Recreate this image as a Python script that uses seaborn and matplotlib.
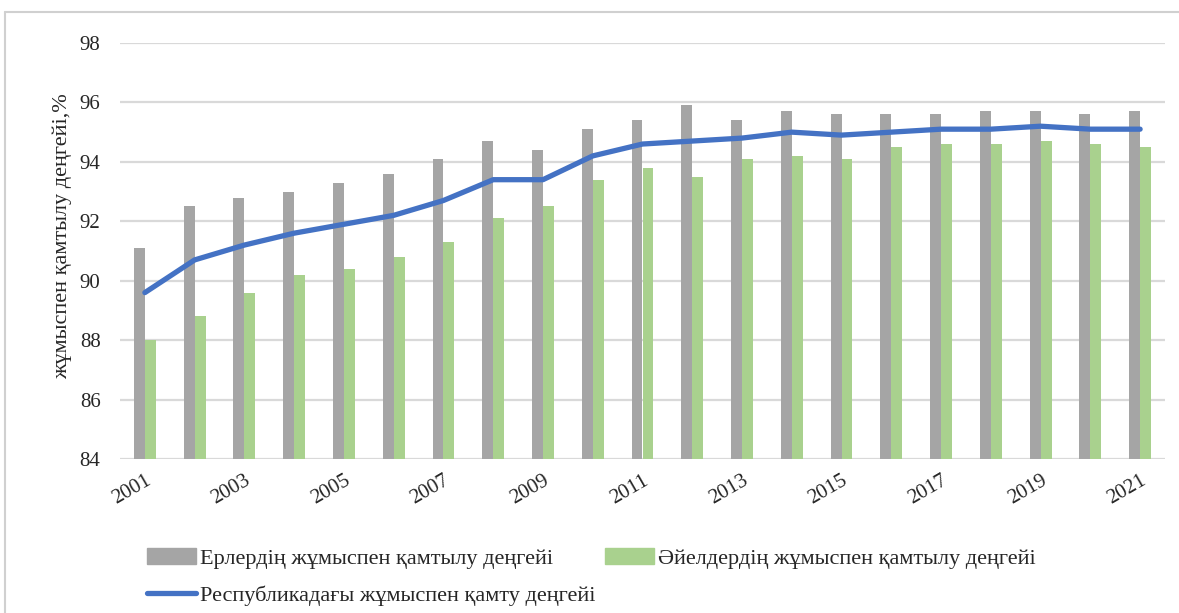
import numpy as np
import pandas as pd
import matplotlib
matplotlib.use("Agg")
import matplotlib.pyplot as plt
import matplotlib.patches as mpatches
import matplotlib.lines as mlines
import seaborn as sns

years = [str(y) for y in range(2001, 2022)]
men = [91.1, 92.5, 92.8, 93.0, 93.3, 93.6, 94.1, 94.7, 94.4, 95.1, 95.4,
       95.9, 95.4, 95.7, 95.6, 95.6, 95.6, 95.7, 95.7, 95.6, 95.7]
women = [88.0, 88.8, 89.6, 90.2, 90.4, 90.8, 91.3, 92.1, 92.5, 93.4, 93.8,
         93.5, 94.1, 94.2, 94.1, 94.5, 94.6, 94.6, 94.7, 94.6, 94.5]
republic = [89.6, 90.7, 91.2, 91.6, 91.9, 92.2, 92.7, 93.4, 93.4, 94.2, 94.6,
            94.7, 94.8, 95.0, 94.9, 95.0, 95.1, 95.1, 95.2, 95.1, 95.1]

lab_men = "Ерлердің жұмыспен қамтылу деңгейі"
lab_women = "Әйелдердің жұмыспен қамтылу деңгейі"
lab_rep = "Республикадағы жұмыспен қамту деңгейі"
ylabel = "жұмыспен қамтылу деңгейі,%"

sns.set_style("white")
plt.rcParams['font.family'] = ['Liberation Serif', 'DejaVu Serif']

c_gray = "#A5A5A5"
c_green = "#A9D18E"
c_blue = "#4472C4"

df = pd.DataFrame({
    "year": years * 2,
    "value": men + women,
    "series": [lab_men] * len(years) + [lab_women] * len(years),
})

fig = plt.figure(figsize=(11.79, 6.13), dpi=100)
ax = fig.add_axes([120/1179, 1-459/613, (1165-120)/1179, (459-43)/613])

sns.barplot(data=df, x="year", y="value", hue="series", order=years,
            hue_order=[lab_men, lab_women], palette=[c_gray, c_green],
            width=0.44, gap=0, saturation=1, legend=False, ax=ax, zorder=2,
            linewidth=0, edgecolor="none")
sns.lineplot(x=np.arange(len(years)), y=republic, color=c_blue, lw=3.8,
             ax=ax, zorder=3, legend=False)

ax.set_ylim(84, 98)
ax.set_xlim(-0.5, len(years) - 0.5)
ax.set_yticks(np.arange(84, 99, 2))
ax.yaxis.grid(True, color="#D9D9D9", lw=1.6, zorder=0)
ax.set_axisbelow(True)
for s in ax.spines.values():
    s.set_visible(False)
ax.tick_params(axis='y', length=0, pad=14, labelsize=15)
ax.tick_params(axis='x', length=0, pad=9, labelsize=15)
xt = list(range(0, len(years), 2))
ax.set_xticks(xt)
ax.set_xticklabels([years[i] for i in xt], rotation=30, ha='right',
                   rotation_mode='anchor')
ax.set_xlabel("")
ax.set_ylabel(ylabel, fontsize=16, labelpad=8)
ax.yaxis.set_label_coords(-0.046, 0.535)

handles = [
    mpatches.Patch(color=c_gray, label=lab_men),
    mlines.Line2D([], [], color=c_blue, lw=3.8, label=lab_rep),
    mpatches.Patch(color=c_green, label=lab_women),
]
fig.legend(handles=handles, ncol=2, loc='upper left',
           bbox_to_anchor=(127/1179, 1-528/613), frameon=False,
           fontsize=16, handlelength=2.2, handletextpad=0.2,
           columnspacing=0.4, labelspacing=0.75)

# outer frame
fig.add_artist(mlines.Line2D([5/1179, 5/1179], [0, 1-12/613], color="#D0D0D0", lw=1.5))
fig.add_artist(mlines.Line2D([5/1179, 1], [1-12/613, 1-12/613], color="#D0D0D0", lw=1.5))

fig.savefig("out.png", dpi=100)
